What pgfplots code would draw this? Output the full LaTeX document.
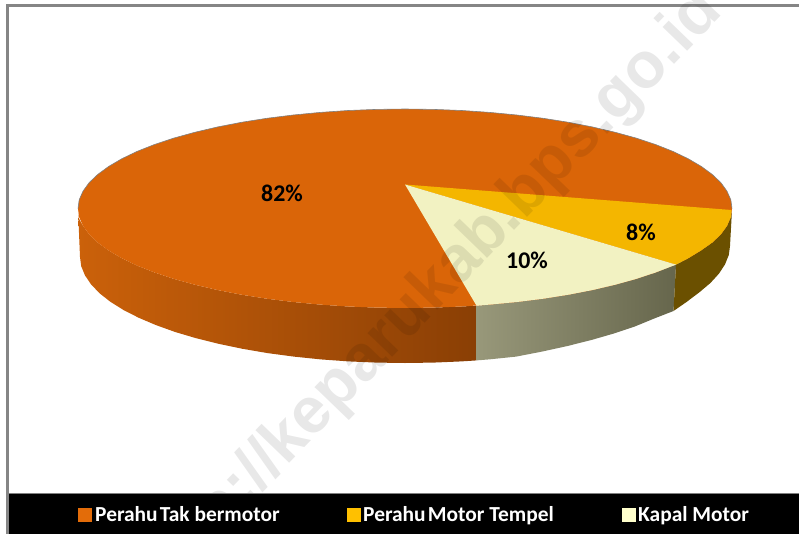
\documentclass[border=0pt]{standalone}
\usepackage{fontspec}
\setmainfont{Carlito}
\newfontfamily\wmfont{Liberation Sans}
\usepackage{pgfplots}
\pgfplotsset{compat=1.18}
\definecolor{topor}{HTML}{DA6508}
\definecolor{topye}{HTML}{F4B600}
\definecolor{topwh}{HTML}{F2F2C2}
\definecolor{sideorL}{HTML}{CB610A}
\definecolor{sideorR}{HTML}{8A3F05}
\definecolor{sidewhL}{HTML}{98987A}
\definecolor{sidewhR}{HTML}{66664C}
\definecolor{sidebr}{HTML}{6B5000}
\definecolor{framegray}{HTML}{858585}
\begin{document}
\begin{tikzpicture}
\useasboundingbox (0,0) rectangle (799bp,534bp);
\begin{axis}[at={(0,0)},anchor=south west,scale only axis,width=799bp,height=534bp,
  xmin=0,xmax=799,ymin=0,ymax=534,y dir=reverse,hide axis,clip=true]
% frame
\addplot[draw=framegray,line width=3bp] coordinates {(7,534) (7,5.3) (799,5.3)};
% orange side
\addplot[draw=none,left color=sideorL,right color=sideorR] coordinates {
(78,208.5)(78.2,217.2)(83,225.8)(89.1,234.3)(97.7,242.5)(108.6,250.5)(121.8,258.25)(137.1,265.6)(154.5,272.5)(173.8,278.9)(194.8,284.7)(217.4,290)(241.5,294.7)(266.8,298.7)(293.2,302)(320.4,304.6)(348.2,306.5)(376.5,307.6)(405,308)(433.5,307.6)(461.8,306.5)(476.5,305.7)
(476.5,360.4)(461.4,361.4)(433.3,362.6)(405,363)(376.7,362.6)(348.6,361.4)(320.9,359.4)(293.8,356.6)(267.6,353.1)(242.5,348.8)(218.6,343.8)(196.1,338.2)(175.2,332)(156,325.1)(138.8,317.8)(123.5,310)(110.4,301.8)(99.6,293.3)(91.1,284.4)(85,275.4)(81.2,266.2)(80,257)} --cycle;
% pale side
\addplot[draw=none,left color=sidewhL,right color=sidewhR] coordinates {
(476.5,305.7)(489.6,304.6)(516.8,302)(543.2,298.7)(568.5,294.7)(592.6,290)(615.2,284.7)(636.2,278.9)(655.5,272.5)(676,264.6)
(673.5,311)(654,318.6)(634.8,326.5)(613.9,333.5)(591.4,340)(567.5,346)(542.4,351.5)(516.2,356.6)(489.1,359.4)(476.5,360.4)} --cycle;
% brown side
\addplot[draw=none,fill=sidebr] coordinates {
(676,264.6)(688.2,258.25)(700.9,250.5)(712.3,242.5)(720.9,234.3)(727,225.8)(730.8,217.2)(732,210)
(730,246)(728.8,255)(725,264.4)(718.9,273.7)(710.4,283)(699.6,292.1)(686.5,302)(673.5,311)} --cycle;
% top: 82 %
\addplot[draw=none,fill=topor] coordinates {
(78,208.5)(79.2,199.8)(83,191.2)(89.1,182.7)(97.7,174.5)(108.6,166.5)(121.8,158.75)(137.1,151.4)(154.5,144.5)(173.8,138.1)(194.8,132.3)(217.4,127)(241.5,122.3)(266.8,118.3)(293.2,115)(320.4,112.4)(348.2,110.5)(376.5,109.4)(405,109)(433.5,109.4)(461.8,110.5)(489.6,112.4)(516.8,115)(543.2,118.3)(568.5,122.3)(592.6,127)(615.2,132.3)(636.2,138.1)(655.5,144.5)(672.9,151.4)(688.2,158.75)(701.4,166.5)(712.3,174.5)(720.9,182.7)(727,191.2)(730.8,199.8)(732,208.5)(730.8,217.2)(727,225.8)(720.9,234.3)(712.3,242.5)(700.9,250.5)(688.2,258.25)(672.9,265.6)(655.5,272.5)(636.2,278.9)(615.2,284.7)(592.6,290)(568.5,294.7)(543.2,298.7)(516.8,302)(489.6,304.6)(461.8,306.5)(433.5,307.6)(405,308)(376.5,307.6)(348.2,306.5)(320.4,304.6)(293.2,302)(266.8,298.7)(241.5,294.7)(217.4,290)(194.8,284.7)(173.8,278.9)(154.5,272.5)(137.1,265.6)(121.8,258.25)(108.6,250.5)(97.7,242.5)(89.1,234.3)(83,225.8)(79.2,217.2)} --cycle;
% back rim
\addplot[draw=gray,line width=0.6bp] coordinates {
(78,208.5)(79.2,199.8)(83,191.2)(89.1,182.7)(97.7,174.5)(108.6,166.5)(121.8,158.75)(137.1,151.4)(154.5,144.5)(173.8,138.1)(194.8,132.3)(217.4,127)(241.5,122.3)(266.8,118.3)(293.2,115)(320.4,112.4)(348.2,110.5)(376.5,109.4)(405,109)(433.5,109.4)(461.8,110.5)(489.6,112.4)(516.8,115)(543.2,118.3)(568.5,122.3)(592.6,127)(615.2,132.3)(636.2,138.1)(655.5,144.5)(672.9,151.4)(688.2,158.75)(701.4,166.5)(712.3,174.5)(720.9,182.7)(727,191.2)(730.8,199.8)(732,208.5)};
% top: 8 %
\addplot[draw=none,fill=topye] coordinates {
(405,184.5)(731.5,210)(730.8,217.2)(727,225.8)(720.9,234.3)(712.3,242.5)(700.9,250.5)(688.2,258.25)(676,264.6)} --cycle;
% top: 10 %
\addplot[draw=none,fill=topwh] coordinates {
(405,184.5)(676,264.6)(655.5,272.5)(636.2,278.9)(615.2,284.7)(592.6,290)(568.5,294.7)(543.2,298.7)(516.8,302)(489.6,304.6)(476.5,305.7)} --cycle;
% percentage labels
\node[font=\fontsize{24}{26}\selectfont\bfseries,text=black] at (axis cs:282,193) {82\%};
\node[font=\fontsize{24}{26}\selectfont\bfseries,text=black] at (axis cs:641,232) {8\%};
\node[font=\fontsize{24}{26}\selectfont\bfseries,text=black] at (axis cs:527,260) {10\%};
% watermark
\node[rotate=46,font=\wmfont\fontsize{65}{67}\selectfont\bfseries,text=black,text opacity=0.09] at (axis cs:431,293) {http://keparukab.bps.go.id};
% legend bar
\addplot[draw=none,fill=black] coordinates {(8.5,494)(799,494)(799,534)(8.5,534)} --cycle;
\addplot[draw=gray,line width=1bp] coordinates {(8.5,493)(799,493)};
% legend keys
\addplot[only marks,mark=square*,mark size=6.3bp,color={rgb,255:red,227;green,108;blue,9}] coordinates {(84.5,514.5)};
\addplot[only marks,mark=square*,mark size=6.3bp,color={rgb,255:red,255;green,192;blue,0}] coordinates {(353.5,514.5)};
\addplot[only marks,mark=square*,mark size=6.3bp,color={rgb,255:red,255;green,255;blue,204}] coordinates {(628.5,514.5)};
\node[anchor=base west,inner sep=0pt,text=white,font=\fontsize{21.5}{23}\selectfont\bfseries] at (axis cs:95,521) {Perahu\hspace{0.1em}Tak bermotor};
\node[anchor=base west,inner sep=0pt,text=white,font=\fontsize{21.5}{23}\selectfont\bfseries] at (axis cs:363,521) {Perahu\hspace{0.1em}Motor Tempel};
\node[anchor=base west,inner sep=0pt,text=white,font=\fontsize{21.5}{23}\selectfont\bfseries] at (axis cs:638,521) {Kapal Motor};
\end{axis}
\end{tikzpicture}
\end{document}
